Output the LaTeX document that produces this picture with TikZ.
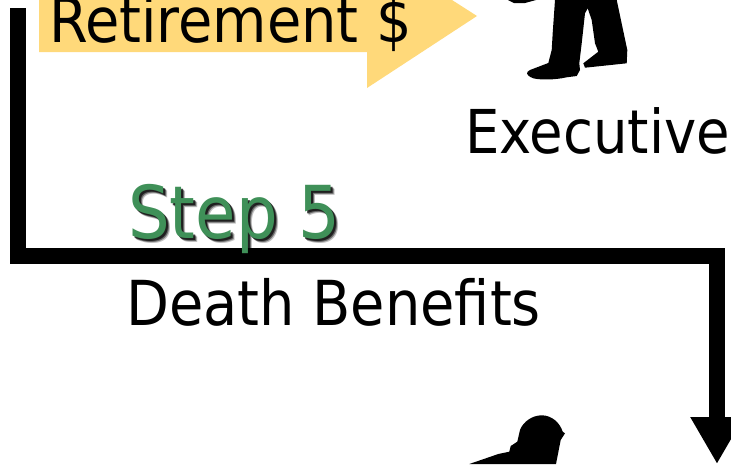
\documentclass[tikz,border=0pt]{standalone}
\usepackage{fontspec}
\setmainfont{DejaVu Sans Condensed}
\usepackage{xcolor}
\usetikzlibrary{positioning, arrows.meta}
\definecolor{sYellow}{HTML}{FFD97A}
\definecolor{sGreen}{HTML}{3F9058}
\tikzset{
  bigtext/.style={font=\fontsize{62}{62}\selectfont, anchor=base west, inner sep=0pt},
  steptext/.style={font=\fontsize{73}{73}\selectfont, anchor=base west, inner sep=0pt},
  flowline/.style={line width=16pt, -{Triangle[length=47pt,width=50pt]}}
}
\begin{document}
\begin{tikzpicture}[x=1pt,y=-1pt]
      \useasboundingbox (0,0) rectangle (731,464);
      \fill[sYellow] (39,-10) -- (39,52) -- (367,52) -- (367,88) -- (477,16) -- (452,0) -- (452,-10) -- cycle;
      \node[bigtext] (retire) at (49,42) {Retirement \$};
      % legs of the executive
      \fill[black] (508,0) -- (536,0) -- (525,3) -- (514,3) -- cycle;
      \fill[black] (555,0) -- (552.7,33) -- (551.7,50) -- (548.3,63) -- (530,70) .. controls (526,72) and (525,75) .. (533.3,78.3)
        .. controls (540,80) and (555,80) .. (566.7,77.3) -- (576.7,76) -- (580,70) -- (579.3,63.3) -- (581.7,43.3) -- (585,13.3)
        -- (587.7,8.3) -- (591.7,20) -- (595,43.3) -- (598.3,51.7) -- (583.3,63.3) -- (585,67.7) -- (626.7,63.3) -- (627.3,50) -- (616.7,0) -- cycle;
      \node[bigtext, font=\fontsize{60.5}{60.5}\selectfont] (exec) at (465,153) {Executive};
      % the line
      \coordinate (start) at (18,8);
      \coordinate (cornerA) at (18,256);
      \coordinate (cornerB) at (717,256);
      \coordinate (tip) at (717,464);
      \draw[flowline] (start) -- (cornerA) -- (cornerB) -- (tip);
      \foreach \d/\o in {4/25,3/45,2/70} \node[steptext, text=black, opacity=\o/100] at (128+\d,238+\d) {Step 5};
      \node[steptext, text=sGreen] (step) at (128,238) {Step 5};
      \node[bigtext] (death) at (126,325) {Death Benefits};
      % head of the beneficiary
      \fill[black] (469.3,464) -- (498.3,454) -- (509.3,451.7) -- (510.7,446) -- (517.3,441.7) -- (520,430)
        .. controls (523,422) and (532,415.3) .. (541.7,415.3) .. controls (552,415.3) and (560,423) .. (562.7,431.7)
        -- (565,433.3) -- (560.7,440) -- (556,464) -- cycle;
    \end{tikzpicture}
\end{document}
